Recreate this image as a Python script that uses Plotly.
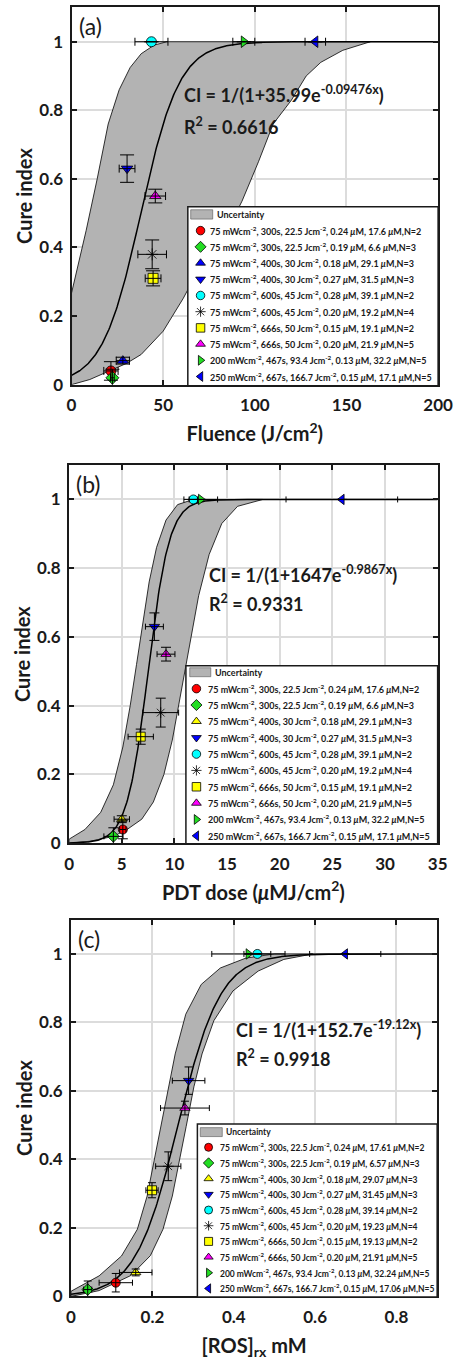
import numpy as np
import plotly.graph_objects as go

W, H = 467, 1361
FONT = "Lato"
INK = "#1a1a1a"
BAND = "#b3b3b3"
GRID = "#dcdcdc"
MU = "<i>μ</i>"

# ---- treatment conditions (legend text) ----
irradiance = ["75", "75", "75", "75", "75", "75", "75", "75", "200", "250"]
exposure = ["300s", "300s", "400s", "400s", "600s", "600s", "666s", "666s", "467s", "667s"]
fluence_nominal = ["22.5", "22.5", "30", "30", "45", "45", "50", "50", "93.4", "166.7"]
drug_conc = ["0.24", "0.19", "0.18", "0.27", "0.28", "0.20", "0.15", "0.20", "0.13", "0.15"]
oxygen_short = ["17.6", "6.6", "29.1", "31.5", "39.1", "19.2", "19.1", "21.9", "32.2", "17.1"]
oxygen_long = ["17.61", "6.57", "29.07", "31.45", "39.14", "19.23", "19.13", "21.91", "32.24", "17.06"]
n_mice = [2, 3, 3, 3, 2, 4, 2, 5, 5, 5]

symbols = ["circle", "diamond", "triangle-up", "triangle-down", "circle",
           "asterisk-open", "square", "triangle-up", "triangle-right", "triangle-left"]
colors_bc = ["#ff0000", "#22dd22", "#ffff00", "#0000ff", "#00ffff",
             "#000000", "#ffff00", "#ff00ff", "#22dd22", "#0000ff"]
colors_a = list(colors_bc)
colors_a[2] = "#0000ff"

# ---- cure index (shared by all panels) ----
cure_index = [0.04, 0.02, 0.07, 0.63, 1.0, 0.38, 0.31, 0.55, 1.0, 1.0]
cure_err = [0.027, 0.025, 0.01, 0.04, 0.0, 0.042, 0.022, 0.02, 0.0, 0.0]

# ---- (a) fluence ----
fluence = [21.5, 22.3, 28.0, 30.3, 43.6, 44.0, 44.5, 45.7, 94.0, 133.0]
fluence_err = [3.9, 1.0, 3.6, 4.3, 9.0, 7.8, 4.3, 5.6, 6.0, 5.6]
fit_a = (35.99, 0.09476)
band_a_hi_x = [0, 4, 8, 14, 20, 26, 32, 38, 45, 52]
band_a_hi_y = [0.267, 0.36, 0.45, 0.6, 0.76, 0.86, 0.925, 0.965, 0.99, 1.0]
band_a_lo_x = [0, 10, 21, 30, 38, 50, 61, 71.5, 85, 93, 102, 110, 120, 128, 136, 148, 163]
band_a_lo_y = [0, 0.015, 0.04, 0.062, 0.088, 0.156, 0.252, 0.358, 0.45, 0.535, 0.65,
               0.76, 0.83, 0.9, 0.94, 0.975, 1.0]

# ---- (b) PDT dose ----
pdt_dose = [5.1, 4.2, 5.0, 8.1, 11.8, 8.7, 6.8, 9.2, 12.5, 25.9]
pdt_dose_err = [0.3, 0.9, 0.73, 0.85, 0.4, 1.7, 1.2, 0.85, 1.6, 5.3]
fit_b = (1647, 0.9867)
band_b_hi_x = [0, 1.5, 3.0, 4.2, 5.1, 5.8, 6.4, 7.0, 7.6, 8.3, 9.2, 10.3, 11.8]
band_b_hi_y = [0.012, 0.04, 0.09, 0.17, 0.28, 0.4, 0.52, 0.64, 0.76, 0.86, 0.94, 0.985, 1.0]
band_b_lo_x = [0, 2, 4.2, 5.5, 6.9, 8.0, 9.0, 9.8, 10.4, 11.0, 11.6, 12.3, 13.3, 14.5, 16.0, 18.4]
band_b_lo_y = [0, 0.006, 0.02, 0.04, 0.07, 0.12, 0.2, 0.3, 0.4, 0.5, 0.6, 0.72, 0.84,
               0.93, 0.98, 1.0]

# ---- (c) reacted ROS ----
ros = [0.11, 0.041, 0.159, 0.289, 0.458, 0.239, 0.199, 0.280, 0.436, 0.674]
ros_err = [0.041, 0.01, 0.04, 0.04, 0.033, 0.031, 0.015, 0.06, 0.09, 0.0875]
fit_c = (152.7, 19.12)
band_c_hi_x = [0, 0.069, 0.124, 0.163, 0.187, 0.205, 0.222, 0.238, 0.256, 0.282, 0.32,
               0.367, 0.43, 0.5]
band_c_hi_y = [0.015, 0.06, 0.118, 0.196, 0.293, 0.4, 0.496, 0.592, 0.708, 0.824, 0.911,
               0.959, 0.988, 1.0]
band_c_lo_x = [0, 0.069, 0.147, 0.195, 0.226, 0.249, 0.266, 0.283, 0.302, 0.322, 0.351,
               0.398, 0.46, 0.523, 0.594]
band_c_lo_y = [0, 0.017, 0.061, 0.119, 0.196, 0.293, 0.39, 0.496, 0.612, 0.708, 0.805,
               0.892, 0.95, 0.984, 1.0]


def cond_label(j, oxygen):
    return (f"{irradiance[j]} mWcm<sup>-2</sup>, {exposure[j]}, {fluence_nominal[j]} "
            f"Jcm<sup>-2</sup>, {drug_conc[j]} {MU}M, {oxygen[j]} {MU}M,N={n_mice[j]}")


panels = [
    dict(x=fluence, xerr=fluence_err, fit=fit_a, colors=colors_a, oxygen=oxygen_short,
         hi=(band_a_hi_x, band_a_hi_y), lo=(band_a_lo_x, band_a_lo_y),
         xmax=200, xticks=[0, 50, 100, 150, 200], xtext=["0", "50", "100", "150", "200"],
         xtitle="Fluence (J/cm<sup>2</sup>)", tag="(a)",
         eq="CI = 1/(1+35.99e<sup>-0.09476x</sup>)", r2="R<sup>2</sup> = 0.6616",
         eq_pos=(60, 0.848, 0.753), tag_x=3,
         px_x=(69.5, 452.5), px_y=(7.5, 387.5), msize=10, capy=7, capx=4,
         leg=dict(box=(191, 208.3, 452.5, 388.5), row0=216, dy=16.33, mx=204.3, tx=212,
                  sw=(194, 211.3, 217, 220.7), ux=219, fs=9, ms=8.5)),
    dict(x=pdt_dose, xerr=pdt_dose_err, fit=fit_b, colors=colors_bc, oxygen=oxygen_short,
         hi=(band_b_hi_x, band_b_hi_y), lo=(band_b_lo_x, band_b_lo_y),
         xmax=35, xticks=[0, 5, 10, 15, 20, 25, 30, 35],
         xtext=["0", "5", "10", "15", "20", "25", "30", "35"],
         xtitle=f"PDT dose ({MU}MJ/cm<sup>2</sup>)", tag="(b)",
         eq="CI = 1/(1+1647e<sup>-0.9867x</sup>)", r2="R<sup>2</sup> = 0.9331",
         eq_pos=(13.06, 0.783, 0.70), tag_x=0.5,
         px_x=(67, 452), px_y=(468.5, 849.5), msize=9, capy=5, capx=3,
         leg=dict(box=(189, 670.7, 452, 850), row0=677.3, dy=16.47, mx=200, tx=209.7,
                  sw=(193, 672.7, 215, 681.7), ux=217.3, fs=9, ms=8.5)),
    dict(x=ros, xerr=ros_err, fit=fit_c, colors=colors_bc, oxygen=oxygen_long,
         hi=(band_c_hi_x, band_c_hi_y), lo=(band_c_lo_x, band_c_lo_y),
         xmax=0.9, xticks=[0, 0.2, 0.4, 0.6, 0.8], xtext=["0", "0.2", "0.4", "0.6", "0.8"],
         xtitle="[ROS]<sub>rx</sub> mM", tag="(c)",
         eq="CI = 1/(1+152.7e<sup>-19.12x</sup>)", r2="R<sup>2</sup> = 0.9918",
         eq_pos=(0.4007, 0.78, 0.697), tag_x=0.013,
         px_x=(69, 451.5), px_y=(926.5, 1306), msize=9, capy=4, capx=3,
         leg=dict(box=(201, 1132.3, 451.5, 1306.5), row0=1140, dy=15.8, mx=212.7, tx=223,
                  sw=(204, 1136, 227, 1145), ux=229, fs=8.5, ms=8)),
]

fig = go.Figure()
annotations = []
shapes = []
layout_axes = {}

for i, p in enumerate(panels):
    sfx = "" if i == 0 else str(i + 1)
    xa, ya = "x" + sfx, "y" + sfx

    # uncertainty band: upper boundary, along CI = 1, back down the lower boundary
    hx, hy = p["hi"]
    lx, ly = p["lo"]
    bx = list(hx) + list(lx[::-1]) + [hx[0]]
    by = list(hy) + list(ly[::-1]) + [hy[0]]
    fig.add_trace(go.Scatter(x=bx, y=by, mode="lines", fill="toself", fillcolor=BAND,
                             line=dict(color="black", width=0.8), xaxis=xa, yaxis=ya,
                             showlegend=False, hoverinfo="skip"))

    # fitted logistic curve
    A, k = p["fit"]
    xf = np.linspace(0, p["xmax"], 500)
    fig.add_trace(go.Scatter(x=xf, y=1.0 / (1.0 + A * np.exp(-k * xf)), mode="lines",
                             line=dict(color="black", width=1.5), xaxis=xa, yaxis=ya,
                             showlegend=False, hoverinfo="skip"))

    # measured groups: filled markers, with the error bars drawn over them
    fig.add_trace(go.Scatter(
        x=p["x"], y=cure_index, mode="markers", xaxis=xa, yaxis=ya,
        marker=dict(symbol=symbols, size=p["msize"], color=p["colors"],
                    line=dict(color="black", width=0.8)),
        showlegend=False))
    fig.add_trace(go.Scatter(
        x=p["x"], y=cure_index, mode="markers", xaxis=xa, yaxis=ya,
        marker=dict(size=2, opacity=0),
        error_x=dict(type="data", array=p["xerr"], color="black",
                     thickness=1, width=p["capx"]),
        error_y=dict(type="data", array=cure_err, color="black", thickness=1,
                     width=p["capy"]),
        showlegend=False, hoverinfo="skip"))

    # axes
    x0, x1 = p["px_x"]
    y0, y1 = p["px_y"]
    common = dict(showline=True, linecolor=INK, linewidth=2, mirror="ticks",
                  ticks="inside", ticklen=5, tickwidth=1.5, tickcolor=INK,
                  showgrid=True, gridcolor=GRID, gridwidth=2, zeroline=False,
                  tickfont=dict(family=FONT, size=17, color=INK, weight="bold"),
                  fixedrange=True)
    layout_axes["xaxis" + sfx] = dict(
        common, domain=[x0 / W, x1 / W], range=[0, p["xmax"]], anchor=ya,
        tickvals=p["xticks"], ticktext=p["xtext"], ticklabelstandoff=4,
        title=dict(text=p["xtitle"], standoff=13,
                   font=dict(family=FONT, size=20, color=INK, weight="bold")))
    layout_axes["yaxis" + sfx] = dict(
        common, domain=[1 - y1 / H, 1 - y0 / H], range=[0, 1.1], anchor=xa,
        tickvals=[0, 0.2, 0.4, 0.6, 0.8, 1], ticktext=["0", "0.2", "0.4", "0.6", "0.8", "1"],
        ticklabelstandoff=3,
        title=dict(text="Cure index", standoff=1,
                   font=dict(family=FONT, size=20, color=INK, weight="bold")))

    # panel tag, fit equation and R^2
    annotations.append(dict(xref=xa, yref=ya, x=p["tag_x"], y=1.045, text=p["tag"],
                            showarrow=False, xanchor="left", yanchor="middle",
                            font=dict(family=FONT, size=23, color=INK)))
    ex, ey1, ey2 = p["eq_pos"]
    for txt, yy in ((p["eq"], ey1), (p["r2"], ey2)):
        annotations.append(dict(xref=xa, yref=ya, x=ex, y=yy, text=txt, showarrow=False,
                                xanchor="left", yanchor="middle",
                                font=dict(family=FONT, size=18, color=INK, weight="bold")))

    # legend box, laid out in page pixels on the overlay axes
    lg = p["leg"]
    bl, bt, br, bb = lg["box"]
    shapes.append(dict(type="rect", xref="x4", yref="y4", x0=bl, x1=br, y0=bt, y1=bb,
                       fillcolor="white", line=dict(color=INK, width=1.5), layer="below"))
    sl, st, sr, sb = lg["sw"]
    shapes.append(dict(type="rect", xref="x4", yref="y4", x0=sl, x1=sr, y0=st, y1=sb,
                       fillcolor=BAND, line=dict(color="#555555", width=0.6), layer="below"))
    annotations.append(dict(xref="x4", yref="y4", x=lg["ux"], y=lg["row0"],
                            text="Uncertainty", showarrow=False, xanchor="left",
                            yanchor="middle",
                            font=dict(family=FONT, size=lg["fs"], color=INK, weight="bold")))
    rows_y = [lg["row0"] + lg["dy"] * (j + 1) for j in range(len(cure_index))]
    fig.add_trace(go.Scatter(
        x=[lg["mx"]] * len(rows_y), y=rows_y, mode="markers", xaxis="x4", yaxis="y4",
        marker=dict(symbol=symbols, size=lg["ms"], color=p["colors"],
                    line=dict(color="black", width=0.8)),
        showlegend=False, hoverinfo="skip"))
    for j, ry in enumerate(rows_y):
        annotations.append(dict(xref="x4", yref="y4", x=lg["tx"], y=ry,
                                text=cond_label(j, p["oxygen"]), showarrow=False,
                                xanchor="left", yanchor="middle",
                                font=dict(family=FONT, size=lg["fs"], color=INK,
                                          weight="bold")))

layout_axes["xaxis4"] = dict(domain=[0, 1], range=[0, W], visible=False, fixedrange=True,
                             anchor="y4")
layout_axes["yaxis4"] = dict(domain=[0, 1], range=[H, 0], visible=False, fixedrange=True,
                             anchor="x4")

fig.update_layout(
    width=W, height=H, autosize=False,
    margin=dict(l=0, r=0, t=0, b=0),
    paper_bgcolor="white", plot_bgcolor="rgba(0,0,0,0)",
    showlegend=False,
    annotations=annotations, shapes=shapes,
    **layout_axes,
)

fig.write_html("out.html")
